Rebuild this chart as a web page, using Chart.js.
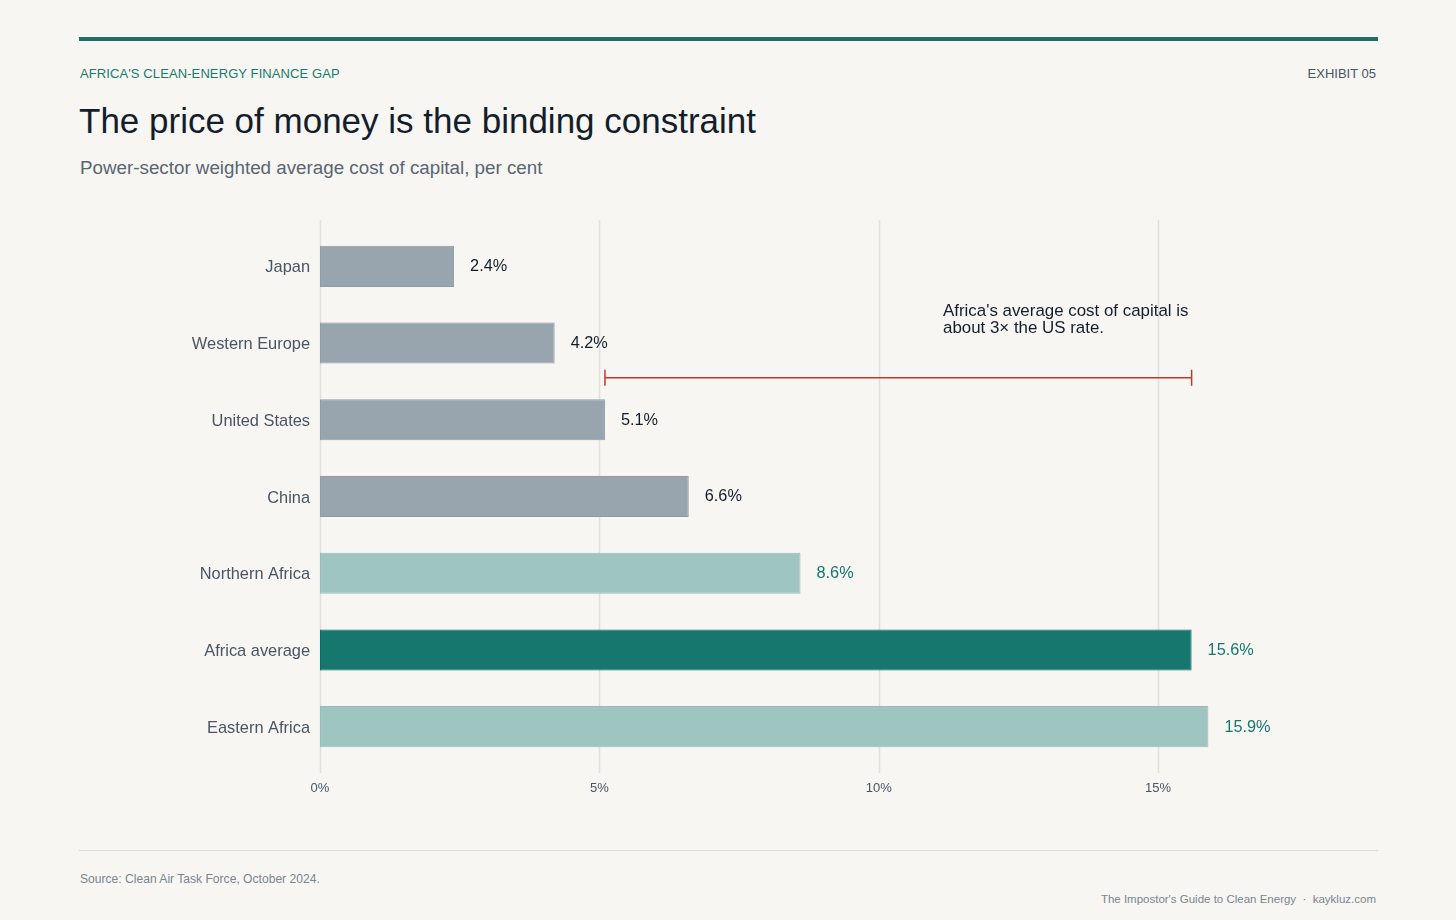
<!DOCTYPE html>
<html>
<head>
<meta charset="utf-8">
<script src="https://cdn.jsdelivr.net/npm/chart.js@4/dist/chart.umd.min.js"></script>
<style>
  html, body { margin:0; padding:0; background:#f7f6f3; }
  body { width:1456px; height:920px; position:relative; overflow:hidden; font-family:"Liberation Sans", Arial, sans-serif; }
  .rule { position:absolute; left:79px; top:37px; width:1299px; height:4px; background:#1b7366; }
  .kicker { position:absolute; left:80px; top:66px; font-size:13px; color:#1b7a6c; letter-spacing:0.1px; }
  .exhibit { position:absolute; right:80px; top:66px; font-size:13px; color:#4a5563; }
  .title { position:absolute; left:79px; top:101px; font-size:35px; color:#141e2b; }
  .subtitle { position:absolute; left:80px; top:157px; font-size:18.8px; color:#5a6572; }
  .chartbox { position:absolute; left:80px; top:200px; width:1300px; height:620px; }
  .footline { position:absolute; left:79px; top:850px; width:1299px; height:1px; background:#dcdcdb; }
  .source { position:absolute; left:80px; top:872px; font-size:12.1px; color:#7a8591; }
  .credit { position:absolute; right:80px; top:893px; font-size:11.5px; color:#7a8591; }
</style>
</head>
<body>
<div class="rule"></div>
<div class="kicker">AFRICA'S CLEAN-ENERGY FINANCE GAP</div>
<div class="exhibit">EXHIBIT 05</div>
<div class="title">The price of money is the binding constraint</div>
<div class="subtitle">Power-sector weighted average cost of capital, per cent</div>
<div class="chartbox"><canvas id="c"></canvas></div>
<div class="footline"></div>
<div class="source">Source: Clean Air Task Force, October 2024.</div>
<div class="credit">The Impostor's Guide to Clean Energy &nbsp;·&nbsp; kaykluz.com</div>
<script>
const categories = ["Japan", "Western Europe", "United States", "China", "Northern Africa", "Africa average", "Eastern Africa"];
const values = [2.4, 4.2, 5.1, 6.6, 8.6, 15.6, 15.9];
const groups = ["peer", "peer", "peer", "peer", "africa", "avg", "africa"];
const tickValues = [0, 5, 10, 15];
const annotationLines = ["Africa's average cost of capital is", "about 3× the US rate."];
const annotationFrom = "United States";
const annotationTo = "Africa average";

const fillColors = { peer: "#99a5ae", africa: "#9fc5c1", avg: "#15776d" };
const borderColors = { peer: "#8f9ba4", africa: "#95bcb8", avg: "#0f6b61" };
const labelColors = { peer: "#141e2b", africa: "#15776d", avg: "#15776d" };

const gridPlugin = {
  id: "customGrid",
  beforeDatasetsDraw(chart) {
    const ctx = chart.ctx, xs = chart.scales.x, area = chart.chartArea;
    ctx.save();
    ctx.strokeStyle = "#e0e0de";
    ctx.lineWidth = 1.5;
    tickValues.forEach(v => {
      const x = Math.round(xs.getPixelForValue(v)) + 0.5;
      ctx.beginPath();
      ctx.moveTo(x, area.top - 8);
      ctx.lineTo(x, area.bottom + 8);
      ctx.stroke();
    });
    ctx.restore();
  }
};

const labelPlugin = {
  id: "valueLabels",
  afterDatasetsDraw(chart) {
    const ctx = chart.ctx, meta = chart.getDatasetMeta(0);
    ctx.save();
    ctx.font = '16.3px "Liberation Sans", Arial, sans-serif';
    ctx.textBaseline = "middle";
    ctx.textAlign = "left";
    meta.data.forEach((bar, i) => {
      ctx.fillStyle = labelColors[groups[i]];
      ctx.fillText(values[i].toFixed(1) + "%", bar.x + 16, bar.y + 0.5);
    });
    // annotation bracket
    const xs = chart.scales.x, ys = chart.scales.y;
    const iFrom = categories.indexOf(annotationFrom), iTo = categories.indexOf(annotationTo);
    const x1 = xs.getPixelForValue(values[iFrom]);
    const x2 = xs.getPixelForValue(values[iTo]);
    const yLine = ys.getPixelForValue(iFrom) - 42;
    ctx.strokeStyle = "#c0392b";
    ctx.lineWidth = 1.5;
    ctx.beginPath();
    ctx.moveTo(x1, yLine); ctx.lineTo(x2, yLine);
    ctx.moveTo(x1, yLine - 8); ctx.lineTo(x1, yLine + 8);
    ctx.moveTo(x2, yLine - 8); ctx.lineTo(x2, yLine + 8);
    ctx.stroke();
    ctx.fillStyle = "#141e2b";
    ctx.font = '16.9px "Liberation Sans", Arial, sans-serif';
    ctx.textBaseline = "middle";
    const tx = xs.getPixelForValue(11.15);
    annotationLines.forEach((t, k) => ctx.fillText(t, tx, yLine - 66 + k * 17));
    ctx.restore();
  }
};

new Chart(document.getElementById("c"), {
  type: "bar",
  data: {
    labels: categories,
    datasets: [{
      data: values,
      backgroundColor: groups.map(g => fillColors[g]),
      borderColor: groups.map(g => borderColors[g]),
      borderWidth: 1,
      borderSkipped: false,
      barPercentage: 1,
      categoryPercentage: 0.535
    }]
  },
  options: {
    indexAxis: "y",
    responsive: true,
    maintainAspectRatio: false,
    animation: false,
    layout: { padding: { top: 28, right: 4, left: 0, bottom: 0 } },
    plugins: { legend: { display: false }, tooltip: { enabled: false } },
    scales: {
      x: {
        min: 0,
        max: 18.9,
        border: { display: false },
        grid: { display: false, drawTicks: false },
        afterBuildTicks: s => { s.ticks = tickValues.map(v => ({ value: v })); },
        afterFit: s => { s.height = 55; },
        ticks: {
          padding: 16,
          color: "#4a5563",
          font: { family: '"Liberation Sans", Arial, sans-serif', size: 13 },
          callback: v => v + "%"
        }
      },
      y: {
        border: { display: false },
        grid: { display: false, drawTicks: false },
        afterFit: s => { s.width = 240; },
        ticks: {
          padding: 10,
          labelOffset: 1.5,
          color: "#4a5563",
          font: { family: '"Liberation Sans", Arial, sans-serif', size: 16.4 }
        }
      }
    }
  },
  plugins: [gridPlugin, labelPlugin]
});
</script>
</body>
</html>
